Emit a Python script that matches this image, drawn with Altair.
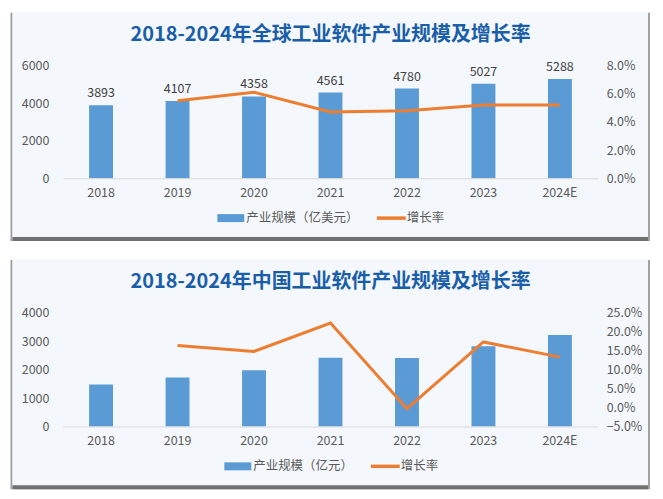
import altair as alt
import pandas as pd

years = ["2018", "2019", "2020", "2021", "2022", "2023", "2024E"]
global_size = [3893, 4107, 4358, 4561, 4780, 5027, 5288]
global_growth = [None, 0.055, 0.061, 0.047, 0.048, 0.052, 0.052]
china_size = [1477, 1720, 1974, 2414, 2407, 2824, 3217]
china_growth = [None, 0.164, 0.148, 0.223, -0.003, 0.173, 0.133]

titles = ["2018-2024年全球工业软件产业规模及增长率", "2018-2024年中国工业软件产业规模及增长率"]
bar_labels = ["产业规模（亿美元）", "产业规模（亿元）"]
line_label = "增长率"

FONT = "Noto Sans CJK SC"
BLUE = "#5b9bd5"
ORANGE = "#ed7d31"
TITLE_C = "#1a5ea9"
W = 537


def panel(idx, size, growth, left_dom, left_vals, right_dom, right_vals, h, show_labels,
          leg_bar_x, leg_line_x):
    df = pd.DataFrame({"year": years, "size": size, "growth": growth})
    base = alt.Chart(df)
    x = alt.X("year:N", sort=years, title=None,
              scale=alt.Scale(paddingInner=0, paddingOuter=0),
              axis=alt.Axis(labelAngle=0, ticks=False, domainColor="#d9d9d9",
                            labelColor="#595959", labelFont=FONT, labelFontSize=12.5,
                            labelPadding=8, zindex=1))
    yleft = alt.Y("size:Q", title=None, scale=alt.Scale(domain=left_dom),
                  axis=alt.Axis(values=left_vals, grid=False, domain=False, ticks=False,
                                labelPadding=14, labelColor="#595959", labelFont=FONT,
                                labelFontSize=12.5, format="d", zindex=1))
    bars = base.mark_bar(size=24, color=BLUE).encode(x=x, y=yleft)
    layers = [bars]
    if show_labels:
        layers.append(base.mark_text(dy=-12, font=FONT, fontSize=12.5, color="#404040").encode(
            x=x, y=yleft, text="size:Q"))
    left = alt.layer(*layers)
    line = base.transform_filter("datum.growth != null").mark_line(
        color=ORANGE, strokeWidth=3).encode(
        x=x,
        y=alt.Y("growth:Q", title=None, scale=alt.Scale(domain=right_dom),
                axis=alt.Axis(orient="right", values=right_vals, format=".1%", grid=False,
                              domain=False, ticks=False, labelPadding=8, zindex=1,
                              labelColor="#595959", labelFont=FONT, labelFontSize=12.5)))

    one = pd.DataFrame({"t": [titles[idx]]})
    shadow = alt.Chart(one).mark_rect(color="#a0a0a0").encode(
        x=alt.value(-52.5), x2=alt.value(W + 52), y=alt.value(-53), y2=alt.value(h + 63))
    shadow2 = alt.Chart(one).mark_rect(color="#707070").encode(
        x=alt.value(-50), x2=alt.value(W + 50), y=alt.value(h + 58), y2=alt.value(h + 63))
    bg = alt.Chart(one).mark_rect(color="#f4f8fc").encode(
        x=alt.value(-50.7), x2=alt.value(W + 50), y=alt.value(-54), y2=alt.value(h + 59))
    title = alt.Chart(one).mark_text(font=FONT, fontSize=20, fontWeight="bold",
                                     color=TITLE_C, baseline="middle").encode(
        x=alt.value(W / 2), y=alt.value(-31), text="t:N")

    leg = pd.DataFrame({"a": [bar_labels[idx]], "b": [line_label]})
    lc = alt.Chart(leg)
    ly = h + 40
    leg_bar = lc.mark_rect(color=BLUE).encode(
        x=alt.value(leg_bar_x), x2=alt.value(leg_bar_x + 27), y=alt.value(ly - 4),
        y2=alt.value(ly + 4))
    leg_bar_t = lc.mark_text(align="left", baseline="middle", font=FONT, fontSize=12.5,
                             color="#595959").encode(
        x=alt.value(leg_bar_x + 29), y=alt.value(ly), text="a:N")
    leg_line = lc.mark_rule(color=ORANGE, strokeWidth=3.5).encode(
        x=alt.value(leg_line_x), x2=alt.value(leg_line_x + 29), y=alt.value(ly))
    leg_line_t = lc.mark_text(align="left", baseline="middle", font=FONT, fontSize=12.5,
                              color="#595959").encode(
        x=alt.value(leg_line_x + 30), y=alt.value(ly), text="b:N")

    deco = alt.layer(shadow, shadow2, bg, title, leg_bar, leg_bar_t, leg_line, leg_line_t)
    main = alt.layer(left, line).resolve_scale(y="independent")
    return alt.layer(deco, main).properties(width=W, height=h)


top = panel(0, global_size, global_growth, [0, 6000], [0, 2000, 4000, 6000],
            [0, 0.08], [0, 0.02, 0.04, 0.06, 0.08], 113, True, 155, 315)
bottom = panel(1, china_size, china_growth, [0, 4000], [0, 1000, 2000, 3000, 4000],
               [-0.05, 0.25], [-0.05, 0, 0.05, 0.1, 0.15, 0.2, 0.25], 114, False, 162, 309)

chart = alt.vconcat(top, bottom, spacing=135, bounds="flush").properties(
    padding={"left": 2, "top": 3, "right": 5, "bottom": 5},
    background="white",
).configure_view(stroke=None)

chart.save("out.html", embed_options={"renderer": "svg", "actions": False})
